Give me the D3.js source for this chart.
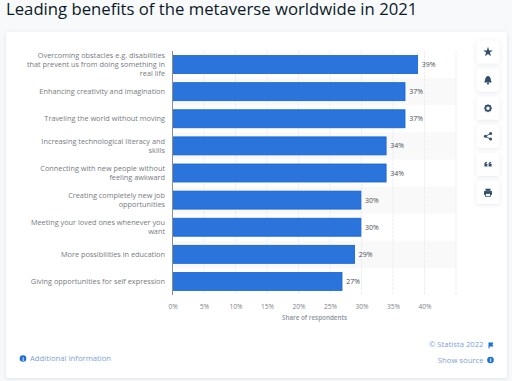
<!DOCTYPE html>
<html>
<head>
<meta charset="utf-8">
<script src="https://d3js.org/d3.v7.min.js"></script>
<style>
  html, body { margin: 0; padding: 0; background: #f7f9fb; overflow: hidden; }
  text { font-family: "Open Sans", sans-serif; }
</style>
</head>
<body>
<div class="chart"></div>
<script>
var categories = [
  ['Overcoming obstacles e.g. disabilities', 'that prevent us from doing something in', 'real life'],
  ['Enhancing creativity and imagination'],
  ['Traveling the world without moving'],
  ['Increasing technological literacy and', 'skills'],
  ['Connecting with new people without', 'feeling awkward'],
  ['Creating completely new job', 'opportunities'],
  ['Meeting your loved ones whenever you', 'want'],
  ['More possibilities in education'],
  ['Giving opportunities for self expression']
];
var values = [39, 37, 37, 34, 34, 30, 30, 29, 27];
var ticks = [0, 5, 10, 15, 20, 25, 30, 35, 40, 45];
var tickLabels = ['0%', '5%', '10%', '15%', '20%', '25%', '30%', '35%', '40%', ''];
var buttons = ['star', 'bell', 'gear', 'share', 'quote', 'print'];

var width = 512, height = 381;
var margin = { top: 51, left: 172.5, right: 56, bottom: 86 };
var plotW = width - margin.left - margin.right;
var plotH = height - margin.top - margin.bottom;

var svg = d3.select('.chart')
  .append('svg')
    .attr('width', width)
    .attr('height', height)
    .style('display', 'block');

// page title
svg.append('text')
  .attr('x', 6)
  .attr('y', 15)
  .attr('font-size', 16.72)
  .attr('fill', '#0b1a26')
  .text('Leading benefits of the metaverse worldwide in 2021');

// white card
var defs = svg.append('defs');
var shadow = defs.append('filter').attr('id', 'soft')
  .attr('x', '-20%').attr('y', '-20%').attr('width', '140%').attr('height', '140%');
shadow.append('feDropShadow')
  .attr('dx', 0).attr('dy', 1).attr('stdDeviation', 2)
  .attr('flood-color', '#8a9bb0').attr('flood-opacity', 0.22);

svg.append('rect')
  .attr('x', 6).attr('y', 32)
  .attr('width', 501).attr('height', 346)
  .attr('rx', 3)
  .attr('fill', '#fff')
  .attr('filter', 'url(#soft)');

var xScale = d3.scaleLinear()
  .domain([0, 45])
  .range([0, plotW]);

var yScale = d3.scaleBand()
  .domain(d3.range(categories.length))
  .range([0, plotH])
  .paddingInner(0)
  .paddingOuter(0);

var chart = svg.append('g')
  .attr('transform', `translate(${margin.left}, ${margin.top})`);

// stripes behind every second row
chart.selectAll('.stripe')
  .data(d3.range(categories.length).filter(i => i % 2 === 1))
  .enter()
  .append('rect')
    .attr('class', 'stripe')
    .attr('x', 0)
    .attr('y', d => yScale(d))
    .attr('width', plotW)
    .attr('height', yScale.bandwidth())
    .attr('fill', '#f9f9f9');

// grid
chart.selectAll('.grid')
  .data(ticks.slice(1))
  .enter()
  .append('line')
    .attr('class', 'grid')
    .attr('x1', d => xScale(d))
    .attr('x2', d => xScale(d))
    .attr('y1', 0)
    .attr('y2', plotH)
    .attr('stroke', '#ebedef')
    .attr('stroke-dasharray', '3,1');

// axis at the bottom, labels only
var xAxis = chart.append('g')
  .attr('transform', `translate(0, ${plotH})`)
  .call(d3.axisBottom(xScale)
    .tickValues(ticks)
    .tickFormat((d, i) => tickLabels[i])
    .tickSize(0)
    .tickPadding(9));
xAxis.select('.domain').remove();
xAxis.selectAll('text')
  .attr('font-size', 6.6)
  .attr('font-family', '"Open Sans", sans-serif')
  .attr('fill', '#7d8388');

chart.append('text')
  .attr('x', 142)
  .attr('y', plotH + 25)
  .attr('text-anchor', 'middle')
  .attr('font-size', 6.3)
  .attr('font-weight', 600)
  .attr('fill', '#8a949d')
  .text('Share of respondents');

// bars
var barH = 18;
chart.selectAll('.bar')
  .data(values)
  .enter()
  .append('rect')
    .attr('class', 'bar')
    .attr('x', 1)
    .attr('y', (d, i) => yScale(i) + (yScale.bandwidth() - barH) / 2)
    .attr('width', d => xScale(d) - 1.6)
    .attr('height', barH)
    .attr('fill', '#2a74dc')
    .attr('stroke', '#0f63d8')
    .attr('stroke-width', 0.8);

// value labels
chart.selectAll('.value')
  .data(values)
  .enter()
  .append('text')
    .attr('class', 'value')
    .attr('x', d => xScale(d) + 3.6)
    .attr('y', (d, i) => yScale(i) + yScale.bandwidth() / 2 + 2.5)
    .attr('font-size', 7)
    .attr('fill', '#4a5157')
    .text(d => d + '%');

// left axis line
chart.append('line')
  .attr('x1', 0).attr('x2', 0)
  .attr('y1', 0).attr('y2', plotH)
  .attr('stroke', '#8a8f94')
  .attr('stroke-width', 1);

// category labels, wrapped by hand like the original
var lineH = 9;
chart.selectAll('.cat')
  .data(categories)
  .enter()
  .append('text')
    .attr('class', 'cat')
    .attr('text-anchor', 'end')
    .attr('font-size', 7.33)
    .attr('fill', '#767b80')
    .each(function (lines, i) {
      var mid = yScale(i) + yScale.bandwidth() / 2 + 2.2;
      d3.select(this).selectAll('tspan')
        .data(lines)
        .enter()
        .append('tspan')
          .attr('x', -7.5)
          .attr('y', (l, j) => mid + (j - (lines.length - 1) / 2) * lineH)
          .text(l => l);
    });

// side buttons
var btn = svg.selectAll('.btn')
  .data(buttons)
  .enter()
  .append('g')
    .attr('class', 'btn')
    .attr('transform', (d, i) => `translate(488, ${52 + i * 28.1})`);

btn.append('rect')
  .attr('x', -11.5).attr('y', -11.5)
  .attr('width', 23).attr('height', 23)
  .attr('rx', 2.5)
  .attr('fill', '#fff')
  .attr('filter', 'url(#soft)');

var ink = '#324f6e';
btn.each(function (name) {
  var g = d3.select(this);
  if (name === 'star') {
    g.append('path')
      .attr('d', d3.symbol().type(d3.symbolStar).size(30)())
      .attr('fill', ink);
  } else if (name === 'bell') {
    g.append('path')
      .attr('d', 'M-3.8,2.4 C-2.6,1 -3.2,-3.8 0,-4 C3.2,-3.8 2.6,1 3.8,2.4 Z')
      .attr('fill', ink);
    g.append('circle').attr('cy', 3.4).attr('r', 1.1).attr('fill', ink);
  } else if (name === 'gear') {
    g.append('circle')
      .attr('r', 2.6)
      .attr('fill', 'none')
      .attr('stroke', ink)
      .attr('stroke-width', 1.7);
    g.selectAll('line')
      .data(d3.range(0, 180, 45))
      .enter()
      .append('line')
        .attr('y1', -4.1).attr('y2', 4.1)
        .attr('transform', d => `rotate(${d})`)
        .attr('stroke', ink)
        .attr('stroke-width', 1)
        .attr('stroke-dasharray', '1.3,5.6');
  } else if (name === 'share') {
    g.append('path')
      .attr('d', 'M2.6,-2.8 L-2.6,0 L2.6,2.8')
      .attr('fill', 'none')
      .attr('stroke', ink)
      .attr('stroke-width', 0.9);
    g.selectAll('circle')
      .data([[2.6, -2.8], [-2.6, 0], [2.6, 2.8]])
      .enter()
      .append('circle')
        .attr('cx', d => d[0])
        .attr('cy', d => d[1])
        .attr('r', 1.5)
        .attr('fill', ink);
  } else if (name === 'quote') {
    g.selectAll('path')
      .data([-3.6, 0.6])
      .enter()
      .append('path')
        .attr('transform', d => `translate(${d}, 0)`)
        .attr('d', 'M0,-0.5 C0,-1.8 1,-2.4 2.6,-2.6 L2.6,-1.6 C1.9,-1.5 1.6,-1.2 1.5,-0.7 L3,-0.7 L3,2 L0,2 Z')
        .attr('fill', ink);
  } else if (name === 'print') {
    g.append('rect').attr('x', -4).attr('y', -1.4).attr('width', 8).attr('height', 3.8).attr('fill', ink);
    g.append('rect').attr('x', -2.5).attr('y', -3.8).attr('width', 5).attr('height', 2.2).attr('fill', ink);
    g.append('rect').attr('x', -2.5).attr('y', 1).attr('width', 5).attr('height', 2.8)
      .attr('fill', '#fff').attr('stroke', ink).attr('stroke-width', 0.8);
  }
});

// footer links
var linkColor = '#7c9fdc';
svg.append('circle').attr('cx', 23).attr('cy', 358.5).attr('r', 3.3).attr('fill', '#1b6fd6');
svg.append('text')
  .attr('x', 23).attr('y', 360.5)
  .attr('text-anchor', 'middle')
  .attr('font-size', 5)
  .attr('font-weight', 700)
  .attr('fill', '#fff')
  .text('i');
svg.append('text')
  .attr('x', 30).attr('y', 361)
  .attr('font-size', 7.7)
  .attr('fill', linkColor)
  .text('Additional Information');

svg.append('text')
  .attr('x', 483.5).attr('y', 347)
  .attr('text-anchor', 'end')
  .attr('font-size', 7.7)
  .attr('fill', linkColor)
  .text('© Statista 2022');
svg.append('path')
  .attr('d', 'M488.5,342.5 L493.5,342.5 L492.4,344.5 L493.5,346.5 L489.5,346.5 L489.5,348.5 L488.5,348.5 Z')
  .attr('fill', '#1b6fd6');

svg.append('text')
  .attr('x', 483.5).attr('y', 363)
  .attr('text-anchor', 'end')
  .attr('font-size', 7.7)
  .attr('fill', linkColor)
  .text('Show source');
svg.append('circle').attr('cx', 490.5).attr('cy', 360).attr('r', 3.3).attr('fill', '#1b6fd6');
svg.append('text')
  .attr('x', 490.5).attr('y', 362)
  .attr('text-anchor', 'middle')
  .attr('font-size', 5)
  .attr('font-weight', 700)
  .attr('fill', '#fff')
  .text('i');
</script>
</body>
</html>
